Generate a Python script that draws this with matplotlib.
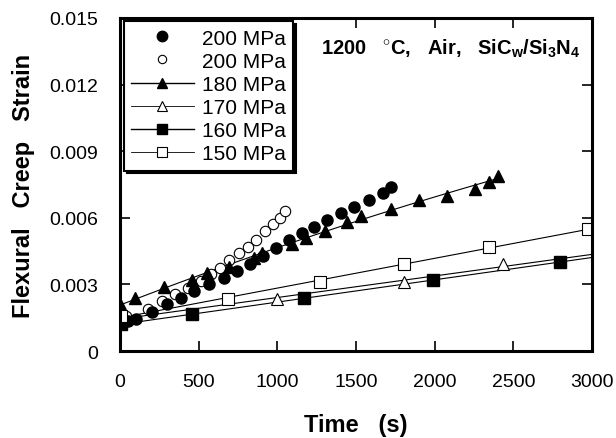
import matplotlib
matplotlib.use('Agg')
import matplotlib.pyplot as plt
import numpy as np

plt.rcParams['font.family'] = ['Liberation Sans', 'DejaVu Sans']
plt.rcParams['mathtext.fontset'] = 'custom'
plt.rcParams['mathtext.rm'] = 'Liberation Sans:bold'
plt.rcParams['mathtext.default'] = 'rm'

# 200 MPa, filled circles
t_200a = [10, 50, 100, 200, 296, 390, 472, 565, 658, 740, 823, 909, 992,
          1075, 1155, 1235, 1318, 1406, 1486, 1582, 1670, 1720]
e_200a = [0.0012, 0.00135, 0.00145, 0.00177, 0.0021, 0.0024, 0.0027, 0.0030,
          0.0033, 0.0036, 0.0039, 0.0043, 0.00465, 0.0050, 0.0053, 0.0056,
          0.0059, 0.0062, 0.0065, 0.0068, 0.0071, 0.0074]

# 200 MPa, open circles
t_200b = [38, 176, 264, 351, 434, 515, 577, 633, 690, 753, 811, 866, 921,
          972, 1017, 1047]
e_200b = [0.0016, 0.0019, 0.00225, 0.00255, 0.00285, 0.00315, 0.00345,
          0.00375, 0.0041, 0.0044, 0.0047, 0.0050, 0.0054, 0.0057, 0.0060,
          0.0063]

# 180 MPa, filled triangles
t_180 = [0, 95, 276, 460, 552, 690, 854, 904, 1092, 1180, 1305, 1443, 1531,
         1720, 1900, 2078, 2259, 2347, 2402]
e_180 = [0.0021, 0.0024, 0.0029, 0.0032, 0.0035, 0.0038, 0.0042, 0.0044,
         0.0048, 0.0051, 0.0054, 0.0058, 0.0061, 0.0064, 0.0068, 0.0070,
         0.0073, 0.0076, 0.0079]

# 170 MPa, open triangles
t_170 = [0, 997, 1808, 2435]
e_170 = [0.0015, 0.00235, 0.0031, 0.0039]

# 160 MPa, filled squares
t_160 = [5, 457, 1167, 1988, 2799]
e_160 = [0.0012, 0.00165, 0.0024, 0.0032, 0.0040]

# 150 MPa, open squares
t_150 = [5, 683, 1268, 1808, 2347, 2975]
e_150 = [0.0016, 0.00235, 0.0031, 0.0039, 0.0047, 0.0055]

x_ticks = [0, 500, 1000, 1500, 2000, 2500, 3000]
y_ticks = [0, 0.003, 0.006, 0.009, 0.012, 0.015]
y_tick_labels = ['0', '0.003', '0.006', '0.009', '0.012', '0.015']

fig = plt.figure(figsize=(6.16, 4.39), dpi=100)
ax = fig.add_axes([0.195, 0.198, 0.766, 0.759])


def fit_line(t, e, deg, t_end):
    c = np.polyfit(t, e, deg)
    tt = np.linspace(0, t_end, 100)
    return tt, np.polyval(c, tt)


# lineas ajustadas
tt, ee = fit_line(t_180, e_180, 2, t_180[-1])
ax.plot(tt, ee, color='black', lw=0.8)
tt, ee = fit_line(t_170, e_170, 1, 3000)
ax.plot(tt, ee, color='black', lw=0.8)
tt, ee = fit_line(t_160, e_160, 1, 3000)
ax.plot(tt, ee, color='black', lw=0.8)
tt, ee = fit_line(t_150, e_150, 1, 3000)
ax.plot(tt, ee, color='black', lw=0.8)

# marcadores
ax.plot(t_200b, e_200b, 'o', ms=7.5, mfc='white', mec='black', mew=0.8)
ax.plot(t_200a, e_200a, 'o', ms=8, mfc='black', mec='black')
ax.plot(t_180, e_180, '^', ms=8.5, mfc='black', mec='black')
ax.plot(t_170, e_170, '^', ms=8.5, mfc='white', mec='black', mew=0.8)
ax.plot(t_160, e_160, 's', ms=8, mfc='black', mec='black')
ax.plot(t_150, e_150, 's', ms=8, mfc='white', mec='black', mew=0.8)

# leyenda
h1, = ax.plot([], [], 'o', ms=7.5, mfc='black', mec='black', label='200 MPa')
h2, = ax.plot([], [], 'o', ms=6, mfc='white', mec='black', mew=0.8, label='200 MPa')
h3, = ax.plot([], [], '-^', color='black', lw=1, ms=7, mfc='black', label='180 MPa')
h4, = ax.plot([], [], '-^', color='black', lw=0.6, ms=7, mfc='white', mew=0.8, label='170 MPa')
h5, = ax.plot([], [], '-s', color='black', lw=1, ms=7, mfc='black', label='160 MPa')
h6, = ax.plot([], [], '-s', color='black', lw=0.6, ms=7, mfc='white', mew=0.8, label='150 MPa')
leg = ax.legend(handles=[h1, h2, h3, h4, h5, h6], loc='upper left',
                bbox_to_anchor=(0.008, 0.99), fontsize=15, handlelength=3.0,
                handletextpad=0.4, labelspacing=0.2, borderpad=0.35,
                borderaxespad=0, fancybox=False, framealpha=1,
                edgecolor='black', shadow={'color': 'black', 'alpha': 1})
leg.get_frame().set_linewidth(1.5)

ax.text(0.70, 0.91, r'1200   $^{\circ}$C,   Air,   SiC$_{w}$/Si$_{3}$N$_{4}$',
        transform=ax.transAxes, ha='center', va='center', fontsize=14.5,
        fontweight='bold')

ax.set_xlim(0, 3000)
ax.set_ylim(0, 0.015)
ax.set_xticks(x_ticks)
ax.set_yticks(y_ticks)
ax.set_yticklabels(y_tick_labels)
ax.tick_params(direction='in', length=7, width=1.2, top=True, right=True,
               labelsize=14, pad=16)
for s in ax.spines.values():
    s.set_linewidth(2.2)

ax.set_xlabel('Time   (s)', fontsize=17, fontweight='bold', labelpad=16)
ax.set_ylabel('Flexural   Creep   Strain', fontsize=17, fontweight='bold',
              labelpad=10)

fig.savefig('out.png', dpi=100)
